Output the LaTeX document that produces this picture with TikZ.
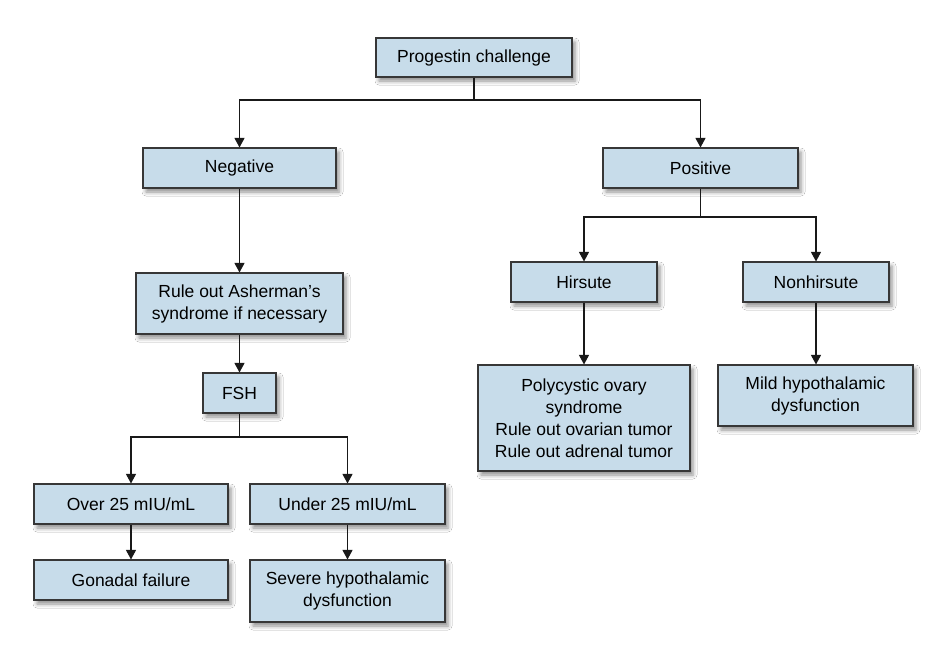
\documentclass[tikz,border=0pt]{standalone}
\usepackage{fontspec}
\setmainfont{Liberation Sans}
\usetikzlibrary{arrows.meta,shadows.blur}
\definecolor{boxfill}{RGB}{199,220,234}
\definecolor{boxline}{RGB}{55,55,55}
\tikzset{
  box/.style={draw=boxline, line width=1.1pt, fill=boxfill, inner sep=0pt, align=center,
    font=\fontsize{17.5}{22}\selectfont,
    blur shadow={shadow xshift=3pt, shadow yshift=-4pt, shadow blur radius=4pt, shadow opacity=45}},
  conn/.style={line width=1.1pt, draw=black!90},
  arr/.style={conn, -{Triangle[width=10pt,length=9.5pt]}},
}
\begin{document}
\begin{tikzpicture}[x=1pt,y=-1pt]
\fill[white] (0,0) rectangle (935,651);
\useasboundingbox (0,0) rectangle (935,651);
\node[box, minimum width=196pt, minimum height=39pt] (prog) at (474,57.5) {Progestin challenge};
\node[box, minimum width=193pt, minimum height=40pt] (neg) at (239.5,168) {Negative};
\node[box, minimum width=195pt, minimum height=40pt] (pos) at (700.5,168) {Positive};
\node[box, minimum width=207pt, minimum height=61pt] (ash) at (239.5,303.5) {Rule out Asherman’s\\syndrome if necessary};
\node[box, minimum width=73pt, minimum height=40pt] (fsh) at (239.5,393) {FSH};
\node[box, minimum width=194pt, minimum height=40pt] (over) at (131,504) {Over 25 mIU/mL};
\node[box, minimum width=195pt, minimum height=40pt] (under) at (347.5,504) {Under 25 mIU/mL};
\node[box, minimum width=194pt, minimum height=40pt] (gon) at (131,580) {Gonadal failure};
\node[box, minimum width=195pt, minimum height=62pt] (sev) at (347.5,591) {Severe hypothalamic\\dysfunction};
\node[box, minimum width=146pt, minimum height=40pt] (hir) at (584,282) {Hirsute};
\node[box, minimum width=146pt, minimum height=40pt] (non) at (816,282) {Nonhirsute};
\node[box, minimum width=212pt, minimum height=106pt] (pco) at (584,418) {Polycystic ovary\\syndrome\\Rule out ovarian tumor\\Rule out adrenal tumor};
\node[box, minimum width=195pt, minimum height=61pt] (mild) at (815.5,395.5) {Mild hypothalamic\\dysfunction};
\coordinate (j1) at (474,100);
\coordinate (j2) at (700.5,217);
\coordinate (j3) at (239.5,437);
\draw[conn] (prog.south) -- (j1);
\draw[arr] (j1) -| (neg.north);
\draw[arr] (j1) -| (pos.north);
\draw[arr] (neg.south) -- (ash.north);
\draw[arr] (ash.south) -- (fsh.north);
\draw[conn] (fsh.south) -- (j3);
\draw[arr] (j3) -| (over.north);
\draw[arr] (j3) -| (under.north);
\draw[arr] (over.south) -- (gon.north);
\draw[arr] (under.south) -- (sev.north);
\draw[conn] (pos.south) -- (j2);
\draw[arr] (j2) -| (hir.north);
\draw[arr] (j2) -| (non.north);
\draw[arr] (hir.south) -- (pco.north);
\draw[arr] (non.south) -- (mild.north -| non.south);
\end{tikzpicture}
\end{document}
